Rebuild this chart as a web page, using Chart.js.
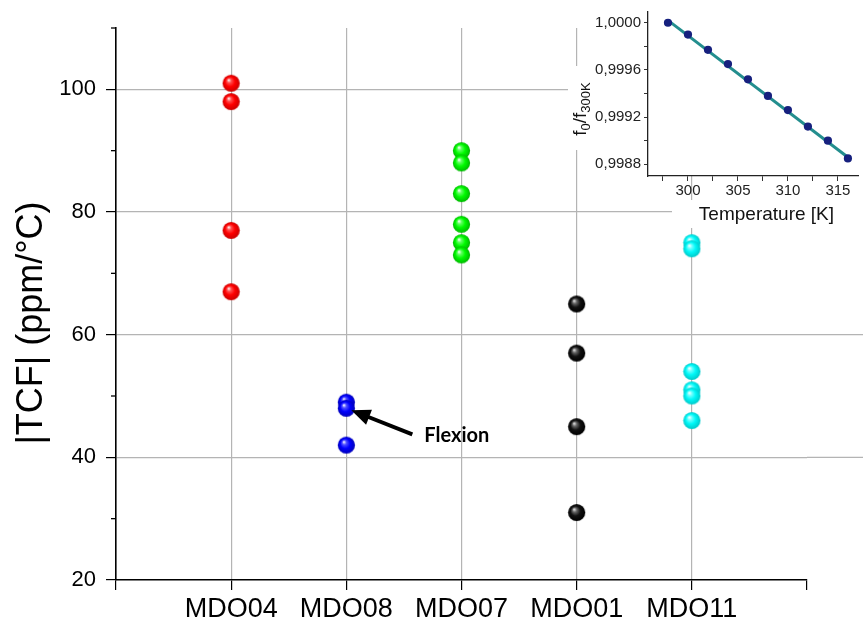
<!DOCTYPE html>
<html><head><meta charset="utf-8">
<script src="https://cdn.jsdelivr.net/npm/chart.js@4.4.0/dist/chart.umd.min.js"></script>
<style>
html,body{margin:0;padding:0;background:#fff;}
#wrap{position:relative;width:863px;height:621px;overflow:hidden;}
#main{position:absolute;left:0;top:0;}
#inset{position:absolute;left:560px;top:0;}
</style></head><body>
<div id="wrap">
<canvas id="main" width="863" height="621"></canvas>
<canvas id="inset" width="303" height="230"></canvas>
</div>
<script>
// ---- main chart data ----
const categories = ['MDO04', 'MDO08', 'MDO07', 'MDO01', 'MDO11'];
const mdo04 = [101, 98, 77, 67];
const mdo08 = [49, 48, 42];
const mdo07 = [90, 88, 83, 78, 75, 73];
const mdo01 = [65, 57, 45, 31];
const mdo11 = [75, 74, 54, 51, 50, 46];
const yMajorTicks = [20, 40, 60, 80, 100];
const yMinorTicks = [30, 50, 70, 90, 110];
const yTitle = '|TCF| (ppm/°C)';
const annotationText = 'Flexion';

// ---- inset data ----
const insetTemps = [298, 300, 302, 304, 306, 308, 310, 312, 314, 316];
const insetRatio = [1.0000, 0.99990, 0.99977, 0.99965, 0.99952, 0.99938, 0.99926, 0.99912, 0.99900, 0.99885];
const fitTemps = [298, 316];
const fitRatio = [1.00002, 0.99886];
const insetYTicks = [0.9988, 0.9992, 0.9996, 1.0000];
const insetYMinor = [0.9990, 0.9994, 0.9998];
const insetXTicks = [300, 305, 310, 315];
const insetXMinor = [297.5, 302.5, 307.5, 312.5];
const insetXTitle = 'Temperature [K]';

const FONT = 'Arial, "Liberation Sans", sans-serif';

// shaded sphere marker
function sphere(stops, r) {
  const s = Math.ceil(r * 2) + 1;
  const c = document.createElement('canvas');
  c.width = s; c.height = s;
  const g = c.getContext('2d');
  const cx = s / 2, cy = s / 2;
  const grad = g.createRadialGradient(cx - r * 0.3, cy - r * 0.38, r * 0.04, cx, cy, r);
  grad.addColorStop(0, stops[0]);
  grad.addColorStop(0.22, stops[1]);
  grad.addColorStop(0.55, stops[2]);
  grad.addColorStop(1, stops[3]);
  g.fillStyle = grad;
  g.beginPath(); g.arc(cx, cy, r, 0, Math.PI * 2); g.fill();
  return c;
}
const seriesList = [mdo04, mdo08, mdo07, mdo01, mdo11];
const seriesStops = [
  ['#fff0f0', '#ff5050', '#ff0000', '#c80000'],
  ['#f0f0ff', '#5050ff', '#0000ff', '#0000b8'],
  ['#f0fff0', '#60ff60', '#00fa00', '#00b800'],
  ['#e0e0e0', '#666666', '#111111', '#000000'],
  ['#f4ffff', '#70ffff', '#00f8f8', '#00c8c8']
];

const datasets = seriesList.map((vals, i) => ({
  label: categories[i],
  data: vals.map(v => ({ x: i + 1, y: v })),
  pointStyle: sphere(seriesStops[i], 8.6),
  pointRadius: 8.6,
  pointHoverRadius: 8.6
}));

const mainExtras = {
  id: 'mainExtras',
  beforeDatasetsDraw(chart) {
    const { ctx, chartArea, scales: { y } } = chart;
    ctx.save();
    ctx.strokeStyle = '#b4b4b4'; ctx.lineWidth = 1.2;
    yMajorTicks.filter(v => v > 20).forEach(v => {
      const py = y.getPixelForValue(v);
      ctx.beginPath(); ctx.moveTo(chartArea.right, py); ctx.lineTo(chart.width, py); ctx.stroke();
    });
    ctx.strokeStyle = '#000'; ctx.lineWidth = 1.3;
    yMinorTicks.forEach(v => {
      const py = y.getPixelForValue(v);
      ctx.beginPath(); ctx.moveTo(chartArea.left - 5, py); ctx.lineTo(chartArea.left, py); ctx.stroke();
    });
    ctx.restore();
  },
  afterDatasetsDraw(chart) {
    const { ctx, scales: { x, y } } = chart;
    const px = x.getPixelForValue(2), py = y.getPixelForValue(mdo08[1]);
    const tip = [px + 5, py + 2], tail = [px + 66, py + 26];
    const dx = tail[0] - tip[0], dy = tail[1] - tip[1];
    const len = Math.hypot(dx, dy), ux = dx / len, uy = dy / len;
    const hl = 19, hw = 8;
    const bx = tip[0] + ux * hl, by = tip[1] + uy * hl;
    ctx.save();
    ctx.strokeStyle = '#000'; ctx.fillStyle = '#000'; ctx.lineWidth = 4;
    ctx.beginPath(); ctx.moveTo(tail[0], tail[1]); ctx.lineTo(bx - ux * 2, by - uy * 2); ctx.stroke();
    ctx.beginPath();
    ctx.moveTo(tip[0], tip[1]);
    ctx.lineTo(bx - uy * hw, by + ux * hw);
    ctx.lineTo(bx + uy * hw, by - ux * hw);
    ctx.closePath(); ctx.fill();
    ctx.font = 'bold 20px Lato, "Open Sans", sans-serif';
    ctx.textAlign = 'left'; ctx.textBaseline = 'alphabetic';
    ctx.fillText(annotationText, px + 78, py + 34);
    ctx.restore();
  },
  afterDraw(chart) {
    const { ctx, chartArea } = chart;
    ctx.save();
    ctx.translate(42, (chartArea.top + chartArea.bottom) / 2 + 19);
    ctx.rotate(-Math.PI / 2);
    ctx.font = '36px ' + FONT;
    ctx.fillStyle = '#000';
    ctx.textAlign = 'center'; ctx.textBaseline = 'alphabetic';
    ctx.fillText(yTitle, 0, 0);
    ctx.restore();
  }
};

new Chart(document.getElementById('main'), {
  type: 'scatter',
  data: { datasets },
  options: {
    responsive: false, animation: false, devicePixelRatio: 1,
    layout: { padding: { left: 0, top: 28, right: 56, bottom: 0 } },
    plugins: { legend: { display: false }, tooltip: { enabled: false } },
    scales: {
      x: {
        type: 'linear', min: 0, max: 6,
        afterBuildTicks: s => { s.ticks = [0, 1, 2, 3, 4, 5, 6].map(v => ({ value: v })); },
        afterFit: s => { s.height = 41; },
        ticks: {
          autoSkip: false, maxRotation: 0, minRotation: 0, padding: 3, color: '#000',
          font: { family: FONT, size: 27 },
          callback: v => categories[v - 1] || ''
        },
        grid: {
          color: c => (c.tick && c.tick.value > 0 && c.tick.value < 6) ? '#b4b4b4' : 'rgba(0,0,0,0)',
          tickColor: '#000', tickLength: 10, lineWidth: 1.2
        },
        border: { color: '#000', width: 1.6 }
      },
      y: {
        type: 'linear', min: 20, max: 110,
        afterBuildTicks: s => { s.ticks = yMajorTicks.map(v => ({ value: v })); },
        afterFit: s => { s.width = 116; },
        ticks: { padding: 10, color: '#000', font: { family: FONT, size: 22 } },
        grid: {
          color: c => (c.tick && c.tick.value > 20) ? '#b4b4b4' : 'rgba(0,0,0,0)',
          tickColor: '#000', tickLength: 10, lineWidth: 1.2
        },
        border: { color: '#000', width: 1.6 }
      }
    }
  },
  plugins: [mainExtras]
});

// ---- inset ----
const insetExtras = {
  id: 'insetExtras',
  beforeDraw(chart) {
    const { ctx, chartArea } = chart;
    ctx.save();
    ctx.fillStyle = '#fff';
    ctx.fillRect(34, 0, chart.width - 34, chartArea.bottom);
    ctx.fillRect(8, 66, 28, 84);
    ctx.fillRect(112, 200, chart.width - 112, 28);
    ctx.restore();
  },
  afterDraw(chart) {
    const { ctx, chartArea } = chart;
    ctx.save();
    ctx.fillStyle = '#111';
    ctx.font = '19px ' + FONT;
    ctx.textAlign = 'center'; ctx.textBaseline = 'alphabetic';
    ctx.fillText(insetXTitle, (chartArea.left + chartArea.right) / 2 + 13, 220);
    const parts = [['f', 19, 0], ['0', 13, 4], ['/f', 19, 0], ['300K', 13, 4]];
    let total = 0;
    parts.forEach(p => { ctx.font = p[1] + 'px ' + FONT; total += ctx.measureText(p[0]).width; });
    ctx.translate(26, 109);
    ctx.rotate(-Math.PI / 2);
    ctx.textAlign = 'left';
    let cx = -total / 2;
    parts.forEach(p => {
      ctx.font = p[1] + 'px ' + FONT;
      ctx.fillText(p[0], cx, p[2]);
      cx += ctx.measureText(p[0]).width;
    });
    ctx.restore();
  }
};

new Chart(document.getElementById('inset'), {
  type: 'scatter',
  data: {
    datasets: [
      {
        data: fitTemps.map((t, i) => ({ x: t, y: fitRatio[i] })),
        showLine: true, borderColor: '#238e8e', borderWidth: 3, pointRadius: 0, order: 1
      },
      {
        data: insetTemps.map((t, i) => ({ x: t, y: insetRatio[i] })),
        pointRadius: 4.1, backgroundColor: '#16207e', borderWidth: 0, order: 0
      }
    ]
  },
  options: {
    responsive: false, animation: false, devicePixelRatio: 1,
    layout: { padding: { left: 0, top: 12, right: 1, bottom: 0 } },
    plugins: { legend: { display: false }, tooltip: { enabled: false } },
    scales: {
      x: {
        type: 'linear', min: 296, max: 317.1,
        afterBuildTicks: s => { s.ticks = insetXTicks.concat(insetXMinor).sort((a, b) => a - b).map(v => ({ value: v })); },
        afterFit: s => { s.height = 54; },
        ticks: {
          autoSkip: false, maxRotation: 0, minRotation: 0, padding: 1, color: '#222',
          font: { family: FONT, size: 15 },
          callback: v => insetXTicks.includes(v) ? String(v) : ''
        },
        grid: { drawOnChartArea: false, tickLength: 5, tickColor: '#333', lineWidth: 1 },
        border: { color: '#222', width: 1.3 }
      },
      y: {
        type: 'linear', min: 0.998701, max: 1.000091,
        afterBuildTicks: s => { s.ticks = insetYTicks.concat(insetYMinor).sort((a, b) => a - b).map(v => ({ value: v })); },
        afterFit: s => { s.width = 88; },
        ticks: {
          padding: 3, color: '#222', font: { family: FONT, size: 15 },
          callback: v => (Math.round(v * 10000) % 4 === 0) ? v.toFixed(4).replace('.', ',') : ''
        },
        grid: { drawOnChartArea: false, tickLength: 4, tickColor: '#333', lineWidth: 1 },
        border: { color: '#222', width: 1.3 }
      }
    }
  },
  plugins: [insetExtras]
});
</script>
</body></html>
